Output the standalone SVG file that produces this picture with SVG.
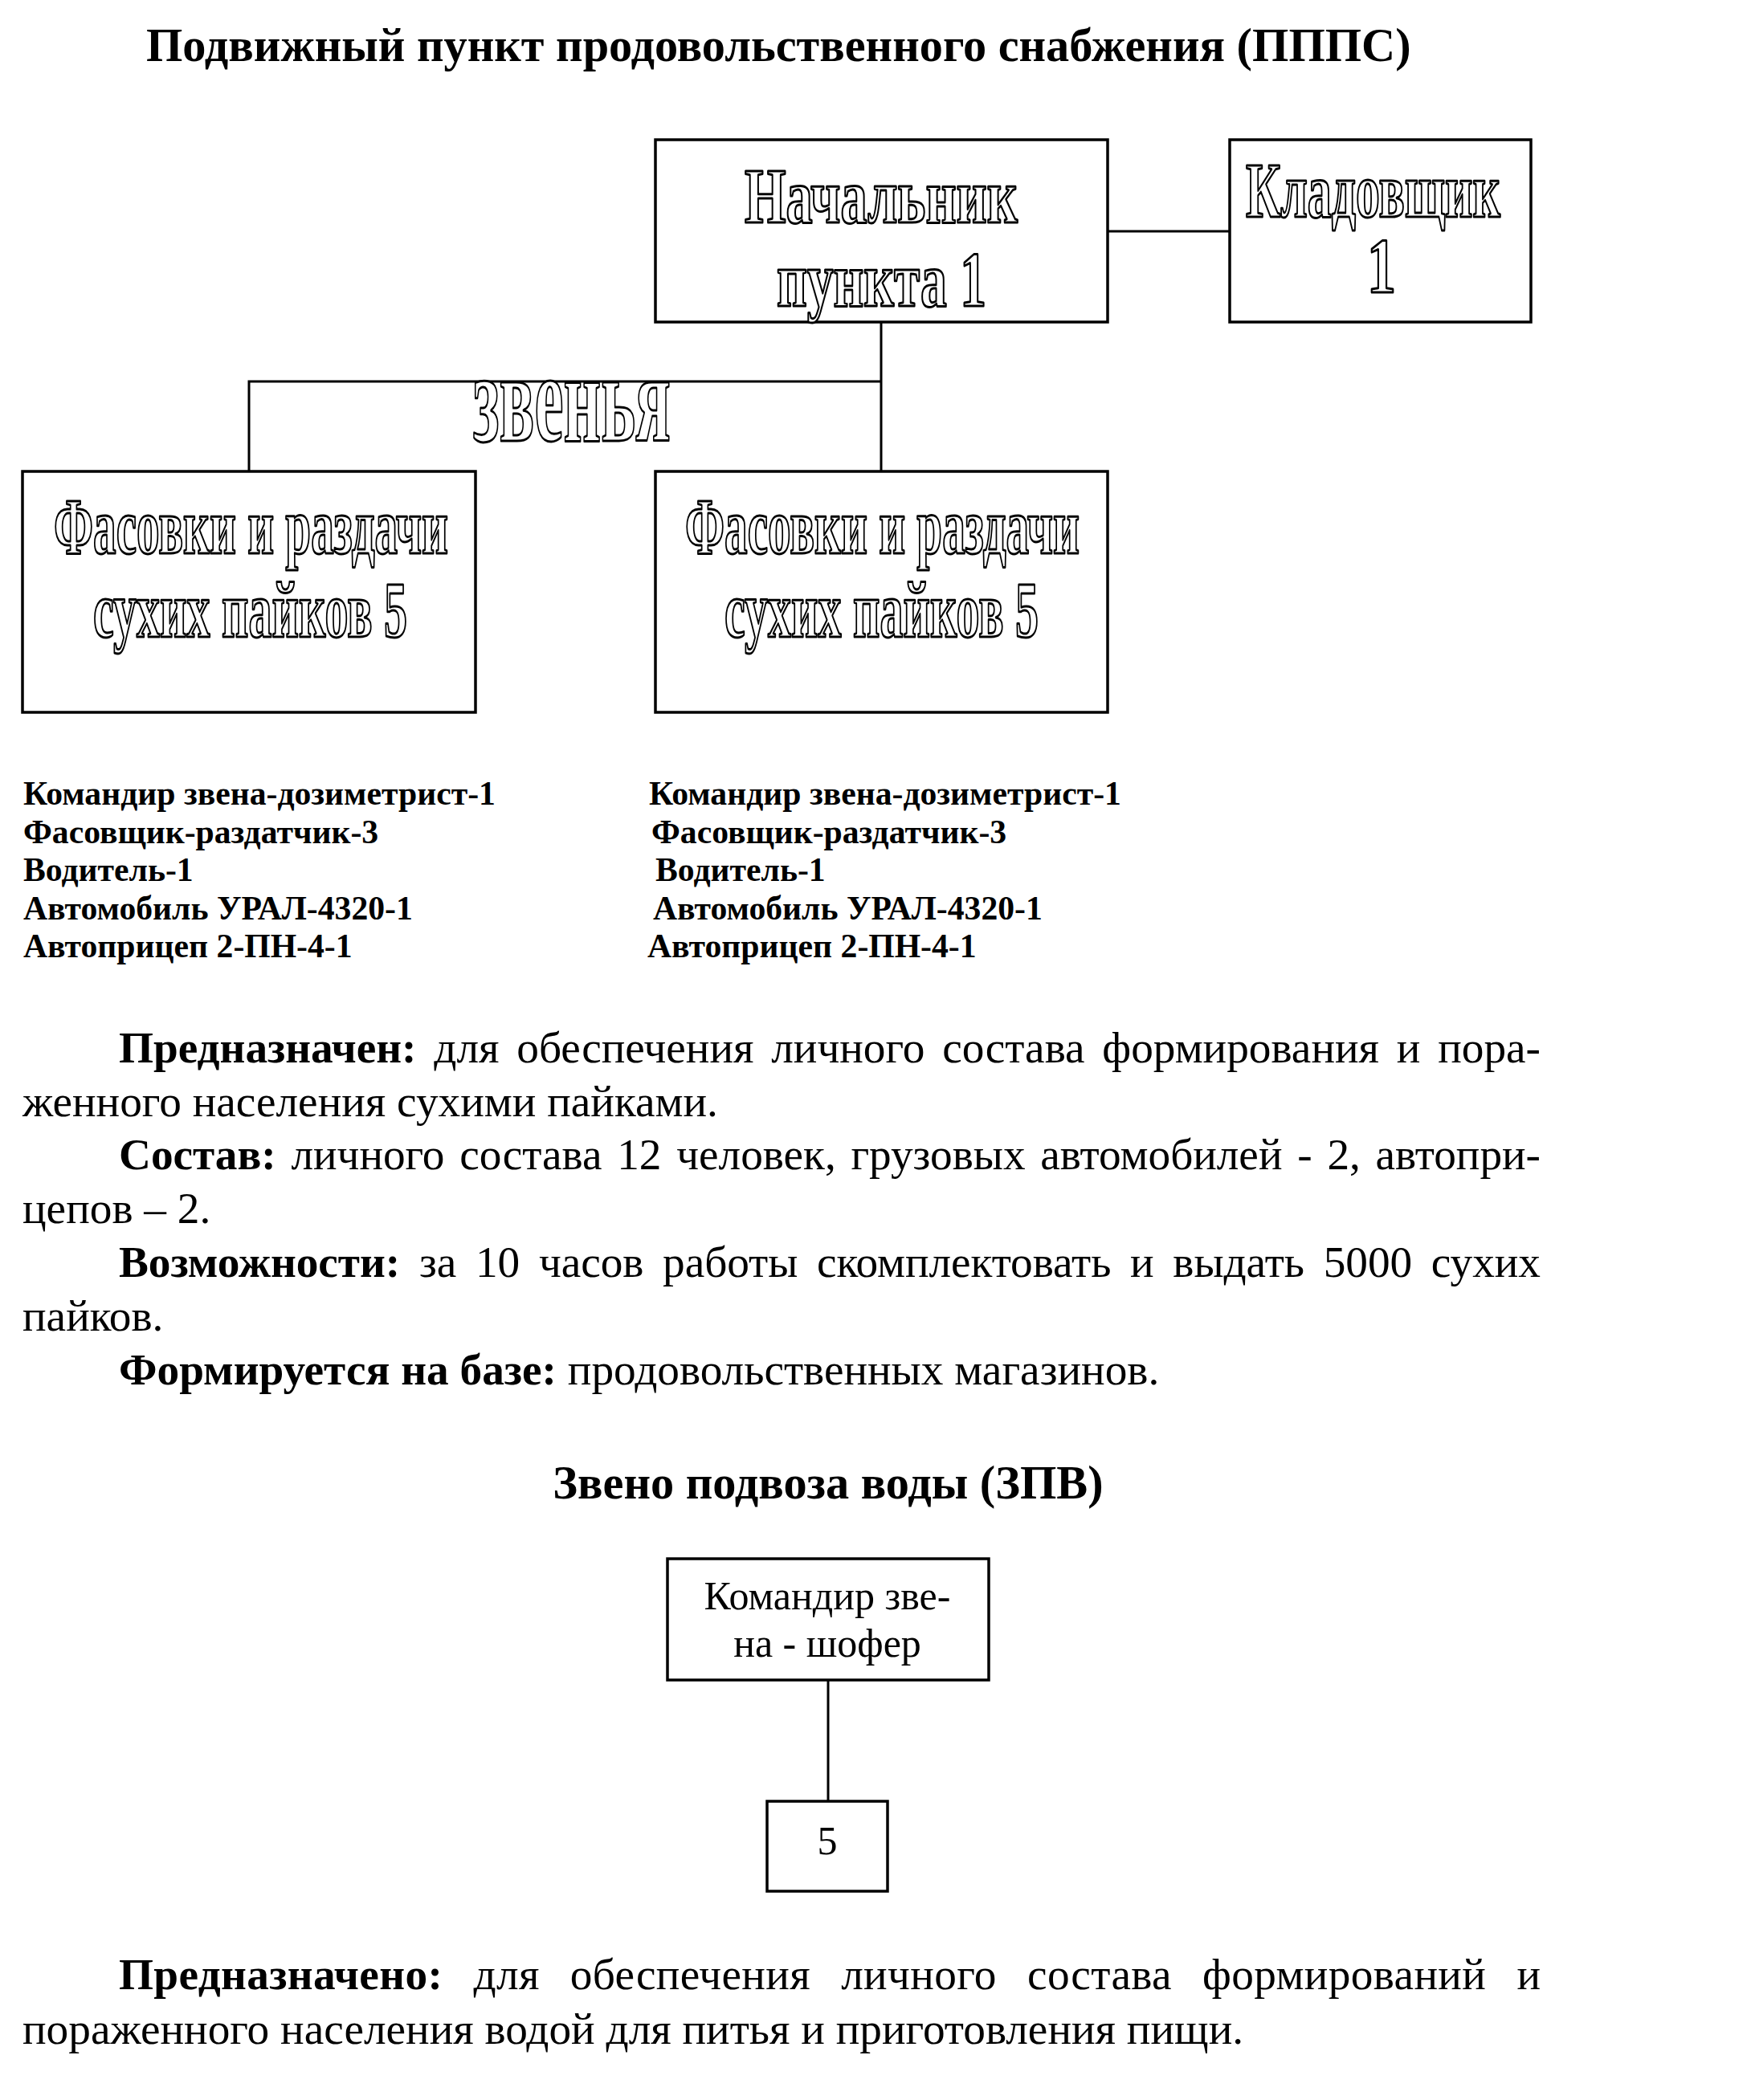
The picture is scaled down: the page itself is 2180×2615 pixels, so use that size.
<svg xmlns="http://www.w3.org/2000/svg" width="2180" height="2615" viewBox="0 0 2180 2615">
<style>
.box{fill:#fff;stroke:#000;stroke-width:3.5}
.ln{fill:none;stroke:#000;stroke-width:3}
.ol{font-family:"Liberation Serif","Times New Roman",serif;font-weight:bold;fill:#fff;stroke:#000;stroke-width:3;stroke-linejoin:round}
.t{font-family:"Liberation Serif","Times New Roman",serif;fill:#000}
.b{font-weight:bold}
.ttl{font-size:58.3px}
.body{font-size:55.3px}
.lst{font-family:"Liberation Serif","Times New Roman",serif;font-weight:bold;font-size:41.7px}
</style>
<rect width="2180" height="2615" fill="#fff"/>
<text class="t b ttl" x="182" y="76">Подвижный пункт продовольственного снабжения (ПППС)</text>

<g id="connectors">
<line class="ln" x1="1379" y1="288" x2="1531" y2="288"/>
<path class="ln" d="M1097,401 V587 M1097,475 H310 V587"/>
<line class="ln" x1="1031" y1="2092" x2="1031" y2="2243"/>
</g>

<g id="nachalnik">
<rect class="box" x="816" y="174" width="563" height="227"/>
<text class="ol" font-size="98" x="927" y="277" textLength="340" lengthAdjust="spacingAndGlyphs">Начальник</text>
<text class="ol" font-size="98" x="967" y="381" textLength="261" lengthAdjust="spacingAndGlyphs">пункта 1</text>
</g>
<g id="kladovshik">
<rect class="box" x="1531" y="174" width="375" height="227"/>
<text class="ol" font-size="98" x="1551" y="270" textLength="317" lengthAdjust="spacingAndGlyphs">Кладовщик</text>
<text class="ol" font-size="98" x="1702" y="364" textLength="36" lengthAdjust="spacingAndGlyphs">1</text>
</g>
<g id="zvenya-label">
<text class="ol" font-size="158" x="589" y="549" textLength="246" lengthAdjust="spacingAndGlyphs">звенья</text>
</g>
<g id="fasovka-left">
<rect class="box" x="28" y="587" width="564" height="300"/>
<text class="ol" font-size="100" x="67" y="689" textLength="491" lengthAdjust="spacingAndGlyphs">Фасовки и раздачи</text>
<text class="ol" font-size="100" x="116" y="793" textLength="391" lengthAdjust="spacingAndGlyphs">сухих пайков 5</text>
</g>
<g id="fasovka-right">
<rect class="box" x="816" y="587" width="563" height="300"/>
<text class="ol" font-size="100" x="853" y="689" textLength="491" lengthAdjust="spacingAndGlyphs">Фасовки и раздачи</text>
<text class="ol" font-size="100" x="902" y="793" textLength="391" lengthAdjust="spacingAndGlyphs">сухих пайков 5</text>
</g>

<g id="list-left">
<text class="lst" x="29" y="1002">Командир звена-дозиметрист-1</text>
<text class="lst" x="29" y="1050">Фасовщик-раздатчик-3</text>
<text class="lst" x="29" y="1097">Водитель-1</text>
<text class="lst" x="29" y="1145">Автомобиль УРАЛ-4320-1</text>
<text class="lst" x="29" y="1192">Автоприцеп 2-ПН-4-1</text>
</g>
<g id="list-right">
<text class="lst" x="808" y="1002">Командир звена-дозиметрист-1</text>
<text class="lst" x="811" y="1050">Фасовщик-раздатчик-3</text>
<text class="lst" x="816" y="1097">Водитель-1</text>
<text class="lst" x="813" y="1145">Автомобиль УРАЛ-4320-1</text>
<text class="lst" x="806" y="1192">Автоприцеп 2-ПН-4-1</text>
</g>

<g id="para1">
<text class="t body" x="148" y="1323" word-spacing="8" textLength="1770" lengthAdjust="spacing"><tspan class="b">Предназначен:</tspan> для обеспечения личного состава формирования и пора-</text>
<text class="t body" x="28" y="1390">женного населения сухими пайками.</text>
<text class="t body" x="148" y="1456" word-spacing="5" textLength="1770" lengthAdjust="spacing"><tspan class="b">Состав:</tspan> личного состава 12 человек, грузовых автомобилей - 2, автопри-</text>
<text class="t body" x="28" y="1523">цепов – 2.</text>
<text class="t body" x="148" y="1590" word-spacing="10" textLength="1770" lengthAdjust="spacing"><tspan class="b">Возможности:</tspan> за 10 часов работы скомплектовать и выдать 5000 сухих</text>
<text class="t body" x="28" y="1657">пайков.</text>
<text class="t body" x="148" y="1724"><tspan class="b">Формируется на базе:</tspan> продовольственных магазинов.</text>
</g>

<text class="t b ttl" x="1031" y="1866" text-anchor="middle">Звено подвоза воды (ЗПВ)</text>

<g id="zpv-commander">
<rect class="box" x="831" y="1941" width="400" height="151"/>
<text class="t" font-size="50" x="1030" y="2004" text-anchor="middle">Командир зве-</text>
<text class="t" font-size="50" x="1030" y="2063" text-anchor="middle">на - шофер</text>
</g>
<g id="zpv-5">
<rect class="box" x="955" y="2243" width="150" height="112"/>
<text class="t" font-size="50" x="1030" y="2309" text-anchor="middle">5</text>
</g>

<g id="para2">
<text class="t body" x="148" y="2477" word-spacing="24" textLength="1770" lengthAdjust="spacing"><tspan class="b">Предназначено:</tspan> для обеспечения личного состава формирований и</text>
<text class="t body" x="28" y="2545">пораженного населения водой для питья и приготовления пищи.</text>
</g>
</svg>
